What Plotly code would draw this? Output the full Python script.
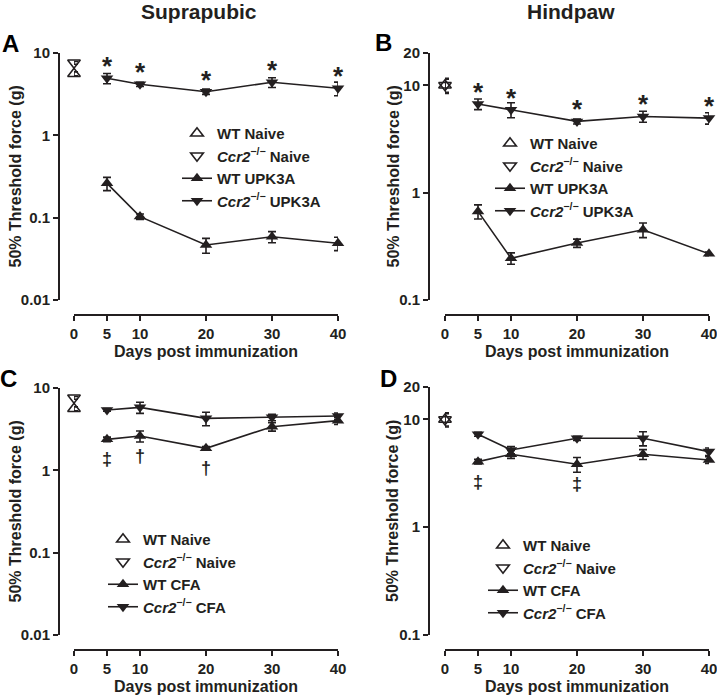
import math
import plotly.graph_objects as go

W, H = 717, 695
FONT = "Liberation Sans, Arial, sans-serif"
INK = "#231f20"

# ---------------- data ----------------
naive_day = [0]
days = [5, 10, 20, 30, 40]
x_ticks = [0, 5, 10, 20, 30, 40]

# Panel A (suprapubic, UPK3A)
a_wt_naive, a_wt_naive_err = [5.6], [0.3]
a_ccr2_naive, a_ccr2_naive_err = [7.6], [0.3]
a_wt, a_wt_err = [0.261, 0.103, 0.0465, 0.0586, 0.0488], [0.048, 0.008, 0.0095, 0.009, 0.009]
a_ccr2, a_ccr2_err = [4.93, 4.17, 3.39, 4.41, 3.73], [0.7, 0.25, 0.25, 0.6, 0.7]
a_marks = ["*", "*", "*", "*", "*"]

# Panel B (hindpaw, UPK3A)
b_wt_naive, b_wt_naive_err = [10.0], [1.6]
b_ccr2_naive, b_ccr2_naive_err = [10.0], [1.4]
b_wt, b_wt_err = [0.669, 0.245, 0.339, 0.451, 0.269], [0.1, 0.03, 0.03, 0.07, 0.01]
b_ccr2, b_ccr2_err = [6.69, 5.93, 4.61, 5.13, 4.95], [0.76, 0.95, 0.25, 0.6, 0.6]
b_marks = ["*", "*", "*", "*", "*"]

# Panel C (suprapubic, CFA)
c_wt_naive, c_wt_naive_err = [5.6], [0.3]
c_ccr2_naive, c_ccr2_naive_err = [7.6], [0.3]
c_wt, c_wt_err = [2.38, 2.61, 1.85, 3.39, 4.01], [0.15, 0.4, 0.1, 0.4, 0.4]
c_ccr2, c_ccr2_err = [5.41, 5.82, 4.28, 4.4, 4.57], [0.2, 0.9, 0.8, 0.4, 0.4]
c_marks = ["‡", "†", "†", "", ""]

# Panel D (hindpaw, CFA)
d_wt_naive, d_wt_naive_err = [10.0], [1.5]
d_ccr2_naive, d_ccr2_naive_err = [10.0], [1.3]
d_wt, d_wt_err = [4.06, 4.75, 3.84, 4.75, 4.21], [0.2, 0.4, 0.6, 0.5, 0.3]
d_ccr2, d_ccr2_err = [7.29, 5.21, 6.69, 6.69, 5.03], [0.3, 0.4, 0.3, 1.0, 0.4]
d_marks = ["‡", "", "‡", "", ""]

CCR2 = "<i>Ccr2</i><sup>−/−</sup>"
Y_TITLE = "50% Threshold force (g)"
X_TITLE = "Days post immunization"

panels = [
    dict(key="", letter="A", wn=(a_wt_naive, a_wt_naive_err), cn=(a_ccr2_naive, a_ccr2_naive_err),
         wt=(a_wt, a_wt_err), cc=(a_ccr2, a_ccr2_err), treat="UPK3A",
         yr=[-2, 1], yt=[0.01, 0.1, 1, 10], ytt=["0.01", "0.1", "1", "10"],
         xpix=(74, 338), ypix=(53, 300), yaxpix=59, xaxpix=315, ytitlex=15,
         marks=a_marks, on="ccr2", legpix=(177, 117)),
    dict(key="2", letter="B", wn=(b_wt_naive, b_wt_naive_err), cn=(b_ccr2_naive, b_ccr2_naive_err),
         wt=(b_wt, b_wt_err), cc=(b_ccr2, b_ccr2_err), treat="UPK3A",
         yr=[-1, math.log10(20)], yt=[0.1, 1, 10, 20], ytt=["0.1", "1", "10", "20"],
         xpix=(445, 709), ypix=(53, 300), yaxpix=429, xaxpix=315, ytitlex=393,
         marks=b_marks, on="ccr2", legpix=(490, 127)),
    dict(key="3", letter="C", wn=(c_wt_naive, c_wt_naive_err), cn=(c_ccr2_naive, c_ccr2_naive_err),
         wt=(c_wt, c_wt_err), cc=(c_ccr2, c_ccr2_err), treat="CFA",
         yr=[-2, 1], yt=[0.01, 0.1, 1, 10], ytt=["0.01", "0.1", "1", "10"],
         xpix=(74, 338), ypix=(388, 635), yaxpix=59, xaxpix=650, ytitlex=15,
         marks=c_marks, on="wt", legpix=(103, 523)),
    dict(key="4", letter="D", wn=(d_wt_naive, d_wt_naive_err), cn=(d_ccr2_naive, d_ccr2_naive_err),
         wt=(d_wt, d_wt_err), cc=(d_ccr2, d_ccr2_err), treat="CFA",
         yr=[-1, math.log10(20)], yt=[0.1, 1, 10, 20], ytt=["0.1", "1", "10", "20"],
         xpix=(445, 709), ypix=(387, 635), yaxpix=429, xaxpix=650, ytitlex=392,
         marks=d_marks, on="wt", legpix=(483, 529)),
]

fig = go.Figure()
annotations = []
layout = {}


def err(arr):
    return dict(type="data", array=arr, visible=True, color=INK, thickness=1.6, width=4)


for p in panels:
    k = p["key"]
    xa, ya = "x" + k, "y" + k
    leg = "legend" + k
    common = dict(xaxis=xa, yaxis=ya, legend=leg, cliponaxis=False)
    fig.add_trace(go.Scatter(x=naive_day, y=p["wn"][0], error_y=err(p["wn"][1]), mode="markers",
                             marker=dict(symbol="triangle-up-open", size=11, color=INK, line=dict(width=1.6, color=INK)),
                             name="WT Naive", **common))
    fig.add_trace(go.Scatter(x=naive_day, y=p["cn"][0], error_y=err(p["cn"][1]), mode="markers",
                             marker=dict(symbol="triangle-down-open", size=11, color=INK, line=dict(width=1.6, color=INK)),
                             name=CCR2 + " Naive", **common))
    fig.add_trace(go.Scatter(x=days, y=p["wt"][0], error_y=err(p["wt"][1]), mode="lines+markers",
                             line=dict(color=INK, width=1.6),
                             marker=dict(symbol="triangle-up", size=11, color=INK),
                             name="WT " + p["treat"], **common))
    fig.add_trace(go.Scatter(x=days, y=p["cc"][0], error_y=err(p["cc"][1]), mode="lines+markers",
                             line=dict(color=INK, width=1.6),
                             marker=dict(symbol="triangle-down", size=11, color=INK),
                             name=CCR2 + " " + p["treat"], **common))

    x0, x1 = p["xpix"]
    y0, y1 = p["ypix"]
    layout["xaxis" + k] = dict(
        domain=[x0 / W, x1 / W], range=[0, 40], anchor="free", position=1 - p["xaxpix"] / H,
        automargin=False, ticklabeloverflow="allow",
        tickvals=x_ticks, ticktext=[str(v) for v in x_ticks], ticks="outside", ticklen=5, tickwidth=2,
        tickcolor=INK, showline=True, linewidth=2, linecolor=INK, showgrid=False, zeroline=False,
        tickfont=dict(family=FONT, size=15, color=INK, weight="bold"),
        title=dict(text=X_TITLE, standoff=4,
                   font=dict(family=FONT, size=16, color=INK, weight="bold")),
    )
    layout["yaxis" + k] = dict(
        domain=[1 - y1 / H, 1 - y0 / H], type="log", range=p["yr"], anchor="free",
        automargin=False, ticklabeloverflow="allow",
        position=p["yaxpix"] / W, tickvals=p["yt"], ticktext=p["ytt"], ticks="outside", ticklen=5,
        tickwidth=2, tickcolor=INK, showline=True, linewidth=2, linecolor=INK, showgrid=False,
        zeroline=False, tickfont=dict(family=FONT, size=15, color=INK, weight="bold"),
    )
    # y-axis title placed precisely
    annotations.append(dict(x=p["ytitlex"] / W, y=1 - (y0 + y1) / 2 / H, xref="paper", yref="paper",
                            text=Y_TITLE, textangle=-90, showarrow=False, xanchor="center", yanchor="middle",
                            font=dict(family=FONT, size=16, color=INK, weight="bold")))

    lx, ly = p["legpix"]
    layout[leg] = dict(x=lx / W, y=1 - ly / H, xanchor="left", yanchor="top", bgcolor="rgba(0,0,0,0)",
                       font=dict(family=FONT, size=15, color=INK, weight="bold"), itemwidth=30,
                       tracegroupgap=0, traceorder="normal")

    # significance marks
    vals = p["cc"][0] if p["on"] == "ccr2" else p["wt"][0]
    for d, v, m in zip(days, vals, p["marks"]):
        if not m:
            continue
        if m == "*":
            annotations.append(dict(x=d, y=math.log10(v), xref=xa, yref=ya, text=m, showarrow=False,
                                    xanchor="center", yanchor="middle",
                                    yshift=12, font=dict(family=FONT, size=26, color=INK, weight="bold")))
        else:
            annotations.append(dict(x=d, y=math.log10(v), xref=xa, yref=ya, text=m, showarrow=False,
                                    xanchor="center", yanchor="middle",
                                    yshift=-20, font=dict(family=FONT, size=18, color=INK, weight="bold")))

    # panel letter
    lpos = {"A": (10, 43), "B": (384, 42), "C": (8, 378), "D": (388, 378)}[p["letter"]]
    annotations.append(dict(x=lpos[0] / W, y=1 - lpos[1] / H, xref="paper", yref="paper", text=p["letter"],
                            xanchor="center", yanchor="middle",
                            showarrow=False, font=dict(family=FONT, size=24, color="black", weight="bold")))

annotations.append(dict(x=199 / W, y=1 - 11 / H, xref="paper", yref="paper", text="Suprapubic", showarrow=False,
                        xanchor="center", yanchor="middle",
                        font=dict(family=FONT, size=21, color=INK, weight="bold")))
annotations.append(dict(x=571 / W, y=1 - 11 / H, xref="paper", yref="paper", text="Hindpaw", showarrow=False,
                        xanchor="center", yanchor="middle",
                        font=dict(family=FONT, size=21, color=INK, weight="bold")))

fig.update_layout(template="none", width=W, height=H, margin=dict(l=0, r=0, t=0, b=0, autoexpand=False),
                  plot_bgcolor="white", paper_bgcolor="white", showlegend=True,
                  annotations=annotations, **layout)

fig.write_html("out.html", config={"displayModeBar": False},
               post_script="document.body.style.margin='0px';")
